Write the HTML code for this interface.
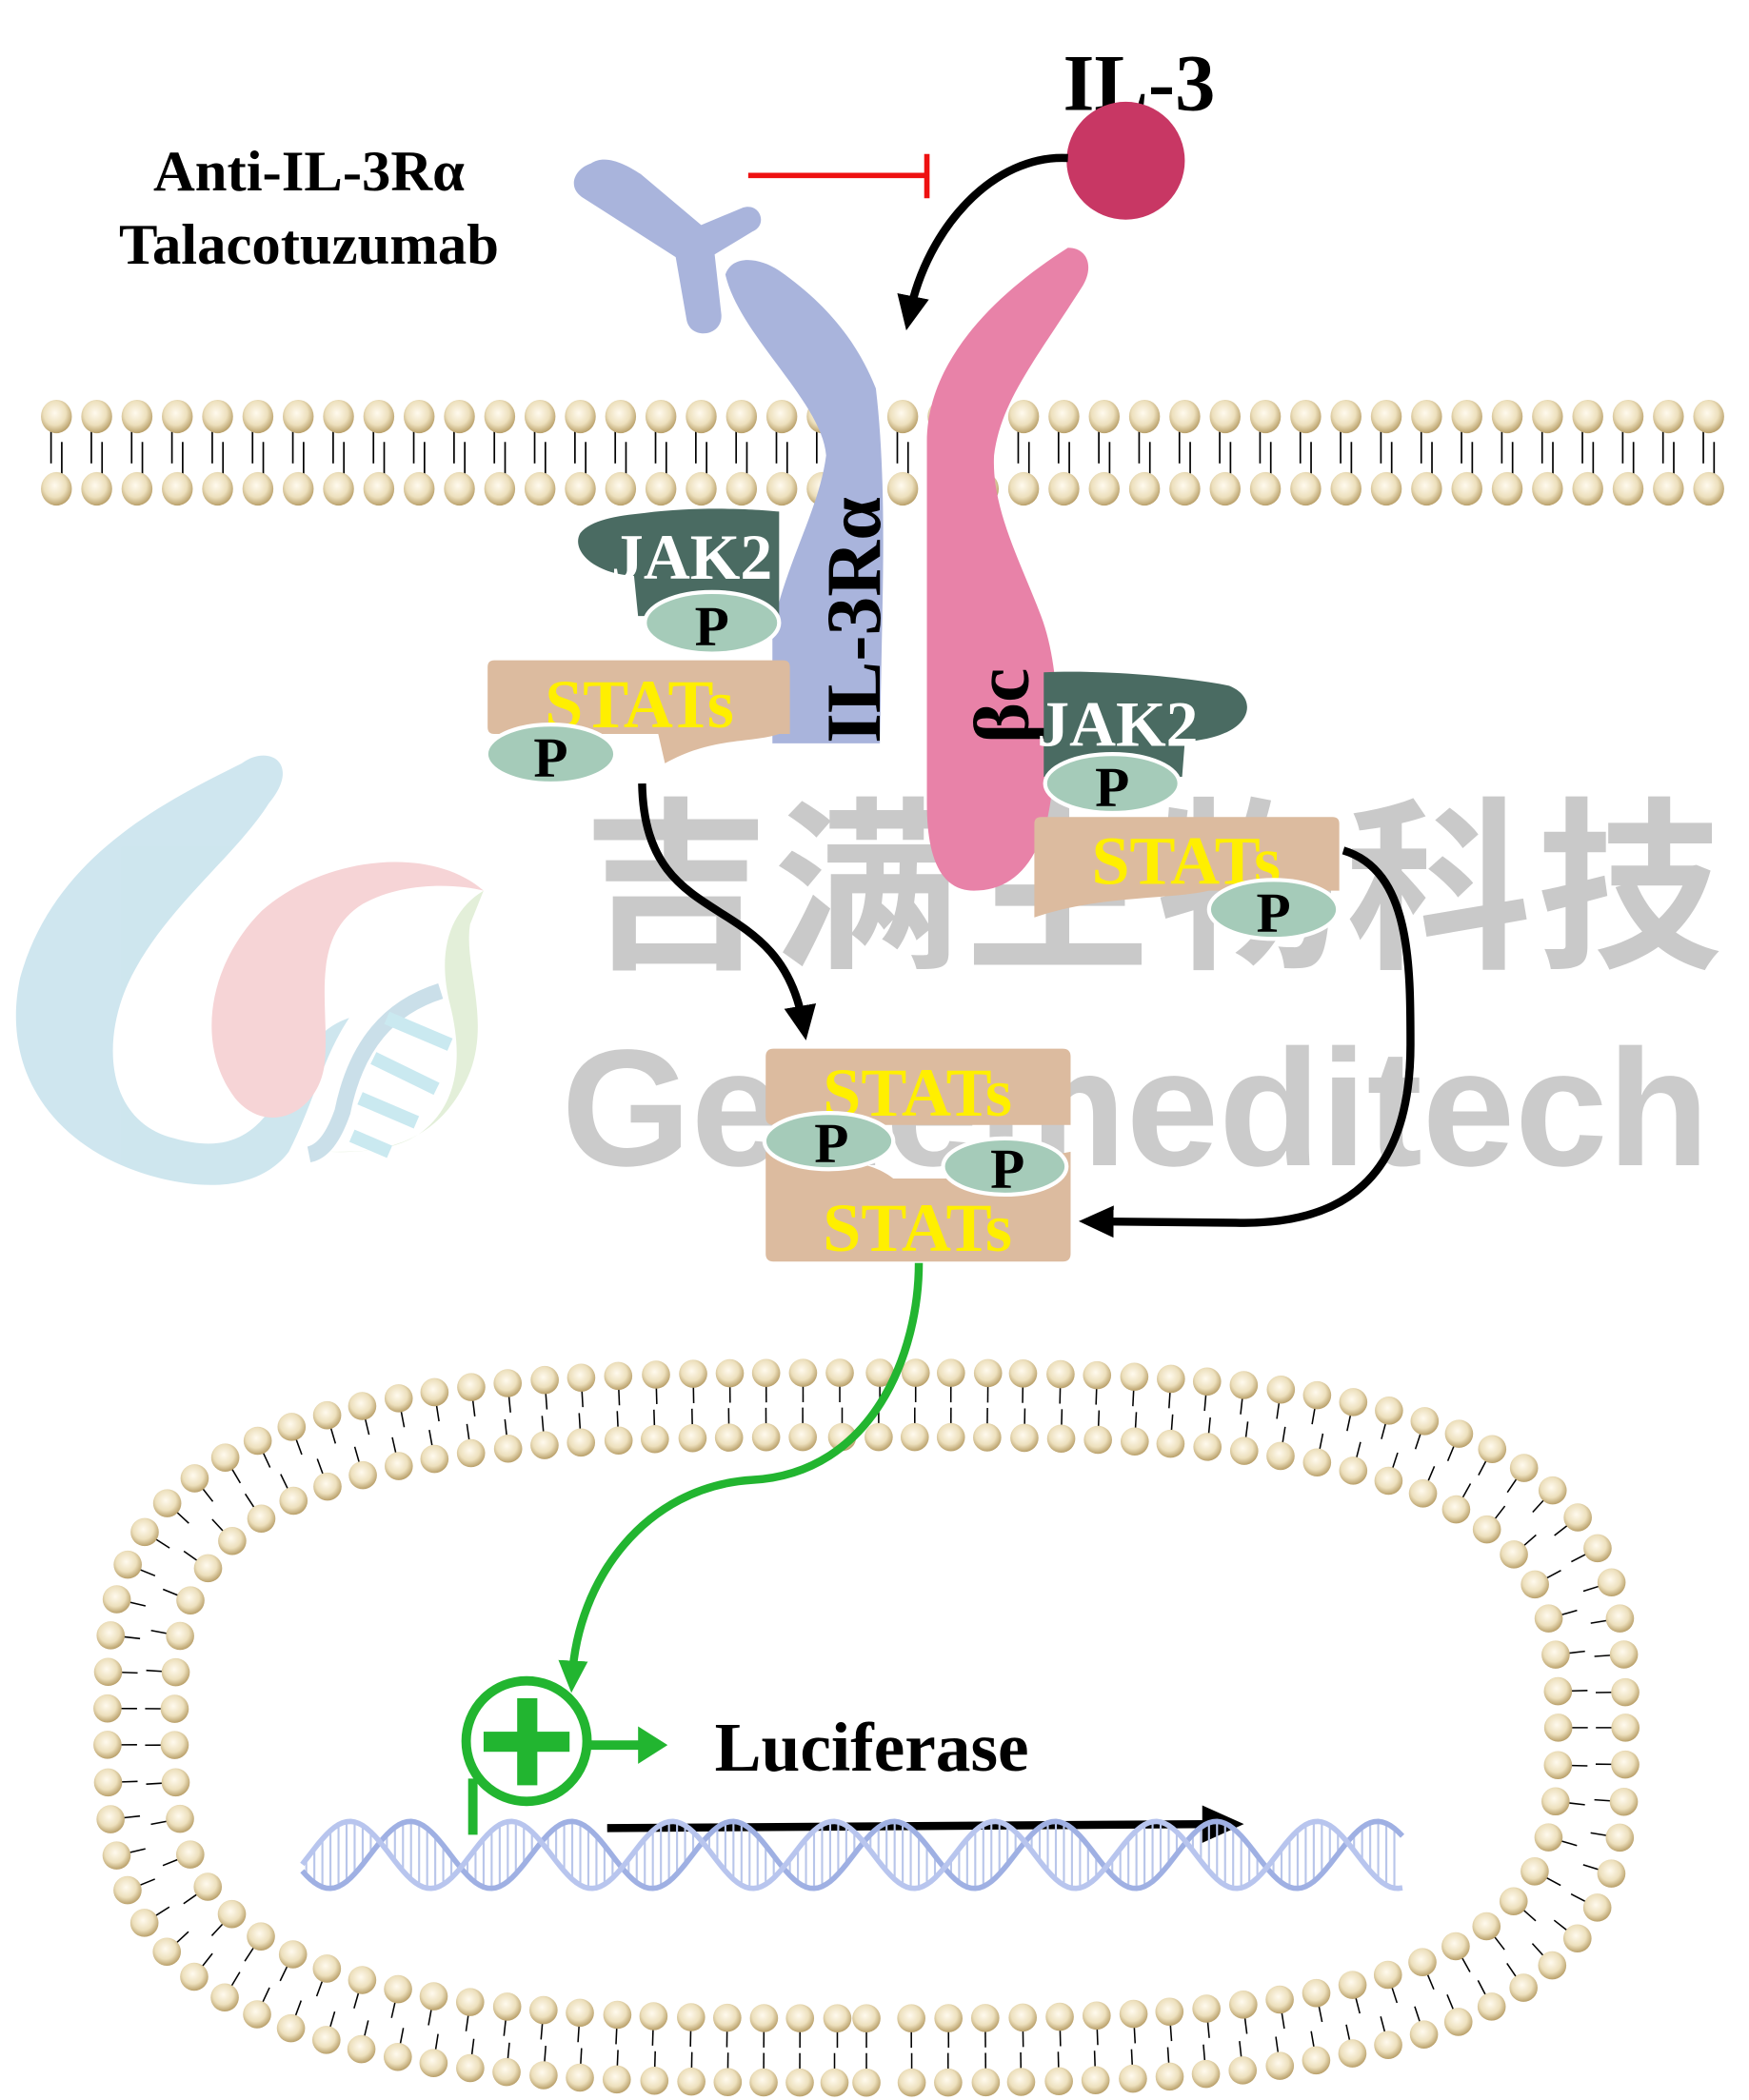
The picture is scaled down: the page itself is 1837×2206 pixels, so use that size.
<!DOCTYPE html>
<html><head><meta charset="utf-8">
<style>html,body{margin:0;padding:0;background:#fff;}svg{display:block;}</style>
</head><body>
<svg id="s" width="1837" height="2206" viewBox="0 0 1302 1568" preserveAspectRatio="none" xmlns="http://www.w3.org/2000/svg">
<defs>
<radialGradient id="hd" cx="0.45" cy="0.4" r="0.6"><stop offset="0" stop-color="#fffaee"/><stop offset="0.6" stop-color="#ede0bd"/><stop offset="1" stop-color="#b9a06a"/></radialGradient>
<marker id="ab" markerWidth="30" markerHeight="30" refX="14" refY="15" orient="auto" markerUnits="userSpaceOnUse"><path d="M0,3 L26,15 L0,27 Z" fill="#000"/></marker>
<marker id="ag" markerWidth="30" markerHeight="30" refX="12" refY="15" orient="auto" markerUnits="userSpaceOnUse"><path d="M0,4 L24,15 L0,26 Z" fill="#22b530"/></marker>
</defs>
<!-- watermark logo -->
<g opacity="0.95">
<path d="M200,600 C225,570 200,555 180,570 C120,600 40,640 15,730 C0,800 40,860 120,880 C170,892 200,880 215,860 C235,820 240,790 260,760 C230,770 220,800 200,830 C185,850 165,860 130,850 C80,838 75,780 95,735 C120,680 175,640 200,600 Z" fill="#cce5ee"/>
<path d="M360,665 C320,630 240,640 195,680 C155,720 145,780 175,820 C200,850 240,830 242,790 C245,750 230,700 270,675 C300,658 340,660 360,665 Z" fill="#f6d2d4"/>
<path d="M360,665 C335,680 325,710 335,750 C345,790 340,820 320,840 C300,860 270,860 245,860 C290,862 330,850 350,800 C365,760 345,720 350,690 Z" fill="#e2efd8"/>
<path d="M328,740 C290,752 265,780 255,830 C248,850 240,860 230,862" stroke="#c8dee8" stroke-width="12" fill="none"/>
<g stroke="#c8e8f0" stroke-width="10"><line x1="288" y1="760" x2="335" y2="780"/><line x1="278" y1="790" x2="325" y2="813"/><line x1="268" y1="820" x2="310" y2="838"/><line x1="262" y1="848" x2="290" y2="860"/></g>
</g>
<text x="860" y="712" font-family="'Noto Sans CJK SC',sans-serif" font-weight="bold" font-size="138" fill="#c9c9c9" text-anchor="middle" letter-spacing="4">吉满生物科技</text>
<text x="418" y="870" font-family="'Liberation Sans',sans-serif" font-weight="bold" font-size="124" fill="#cbcbcb">Genemeditech</text>

<g id="mem"></g>
<g id="nuc"></g>

<!-- antibody -->
<path d="M440,122 C450,115 465,122 477,130 L522,168 L553,155 C566,151 572,168 560,173 L532,190 L537,235 C538,252 513,254 511,238 L503,192 L433,147 C422,139 428,126 440,122 Z" fill="#a9b4dc"/>
<!-- IL-3Ra receptor -->
<path d="M540,205 C545,190 565,192 580,202 C620,230 640,260 652,290 C658,340 658,400 657,450 L655,555 L575,555 L575,470 C585,420 610,380 615,340 C612,300 550,250 540,205 Z" fill="#a9b4dc"/>
<text transform="translate(655,555) rotate(-90)" font-family="'Liberation Serif',serif" font-weight="bold" font-size="58" fill="#000">IL-3Rα</text>
<!-- beta c -->
<path d="M795,185 C810,185 815,200 805,215 C770,270 745,300 740,340 C738,380 760,420 775,460 C790,500 790,560 780,610 C770,650 750,665 725,665 C700,665 690,640 690,600 L690,330 C690,270 740,220 795,185 Z" fill="#e882a8"/>
<text transform="translate(765,555) rotate(-90)" font-family="'Liberation Serif',serif" font-weight="bold" font-size="58" fill="#000">βc</text>

<!-- IL-3 -->
<text x="848" y="82" font-family="'Liberation Serif',serif" font-weight="bold" font-size="60" text-anchor="middle" fill="#000">IL-3</text>
<circle cx="838" cy="120" r="44" fill="#c83764"/>
<path d="M795,118 C740,115 690,170 677,235" stroke="#000" stroke-width="6" fill="none" marker-end="url(#ab)"/>
<line x1="557" y1="131" x2="690" y2="131" stroke="#ee1111" stroke-width="4"/>
<line x1="690" y1="115" x2="690" y2="148" stroke="#ee1111" stroke-width="4"/>
<text x="230" y="142" font-family="'Liberation Serif',serif" font-weight="bold" font-size="43" text-anchor="middle">Anti-IL-3Rα</text>
<text x="230" y="197" font-family="'Liberation Serif',serif" font-weight="bold" font-size="43" text-anchor="middle">Talacotuzumab</text>

<!-- left JAK2 -->
<path d="M480,383 C520,378 560,380 580,382 L580,460 L475,460 L472,430 C440,428 425,410 432,398 C440,388 460,385 480,383 Z" fill="#4a6b62"/>
<text x="515" y="432" font-family="'Liberation Serif',serif" font-weight="bold" font-size="48" fill="#fff" text-anchor="middle">JAK2</text>
<ellipse cx="530" cy="465" rx="50" ry="23" fill="#a5cbb9" stroke="#fff" stroke-width="3"/>
<text x="530" y="482" font-family="'Liberation Serif',serif" font-weight="bold" font-size="42" text-anchor="middle">P</text>
<!-- left STATs -->
<path d="M368,493 L583,493 Q588,493 588,498 L588,548 L580,548 C560,555 530,550 495,570 L490,548 L368,548 Q363,548 363,543 L363,498 Q363,493 368,493 Z" fill="#dcbb9f"/>
<text x="476" y="543" font-family="'Liberation Serif',serif" font-weight="bold" font-size="51" fill="#ffef00" text-anchor="middle">STATs</text>
<ellipse cx="410" cy="563" rx="48" ry="22" fill="#a5cbb9" stroke="#fff" stroke-width="3"/>
<text x="410" y="580" font-family="'Liberation Serif',serif" font-weight="bold" font-size="42" text-anchor="middle">P</text>
<!-- right JAK2 -->
<path d="M777,502 C820,500 880,505 915,512 C935,520 932,540 910,548 C900,552 890,553 882,554 L880,580 L777,580 Z" fill="#4a6b62"/>
<text x="832" y="557" font-family="'Liberation Serif',serif" font-weight="bold" font-size="48" fill="#fff" text-anchor="middle">JAK2</text>
<ellipse cx="828" cy="585" rx="50" ry="22" fill="#a5cbb9" stroke="#fff" stroke-width="3"/>
<text x="828" y="602" font-family="'Liberation Serif',serif" font-weight="bold" font-size="42" text-anchor="middle">P</text>
<!-- right STATs -->
<path d="M775,610 L992,610 Q997,610 997,615 L997,665 L900,665 C870,672 820,668 770,685 L770,615 Q770,610 775,610 Z" fill="#dcbb9f"/>
<text x="883" y="660" font-family="'Liberation Serif',serif" font-weight="bold" font-size="51" fill="#ffef00" text-anchor="middle">STATs</text>
<ellipse cx="948" cy="679" rx="48" ry="22" fill="#a5cbb9" stroke="#fff" stroke-width="3"/>
<text x="948" y="696" font-family="'Liberation Serif',serif" font-weight="bold" font-size="42" text-anchor="middle">P</text>

<!-- arrows to dimer -->
<path d="M478,585 C480,700 580,660 598,765" stroke="#000" stroke-width="6" fill="none" marker-end="url(#ab)"/>
<path d="M1000,635 C1050,650 1050,720 1050,780 C1050,880 1000,915 920,913 L815,912" stroke="#000" stroke-width="6" fill="none" marker-end="url(#ab)"/>

<!-- dimer -->
<path d="M576,783 L791,783 Q797,783 797,789 L797,840 L576,840 Q570,840 570,834 L570,789 Q570,783 576,783 Z" fill="#dcbb9f"/>
<path d="M570,860 C600,870 640,860 665,880 L705,880 C730,860 770,866 797,860 L797,936 Q797,942 791,942 L576,942 Q570,942 570,936 Z" fill="#dcbb9f"/>
<text x="683" y="833" font-family="'Liberation Serif',serif" font-weight="bold" font-size="51" fill="#ffef00" text-anchor="middle">STATs</text>
<text x="683" y="934" font-family="'Liberation Serif',serif" font-weight="bold" font-size="51" fill="#ffef00" text-anchor="middle">STATs</text>
<ellipse cx="617" cy="852" rx="48" ry="21" fill="#a5cbb9" stroke="#fff" stroke-width="3"/>
<text x="619" y="868" font-family="'Liberation Serif',serif" font-weight="bold" font-size="42" text-anchor="middle">P</text>
<ellipse cx="748" cy="871" rx="46" ry="21" fill="#a5cbb9" stroke="#fff" stroke-width="3"/>
<text x="750" y="887" font-family="'Liberation Serif',serif" font-weight="bold" font-size="42" text-anchor="middle">P</text>

<!-- green path -->
<path d="M684,943 C684,1010 650,1100 560,1105 C480,1110 430,1180 426,1252" stroke="#22b530" stroke-width="6" fill="none" marker-end="url(#ag)"/>
<circle cx="392" cy="1300" r="45" fill="#fff" stroke="#22b530" stroke-width="7"/>
<rect x="360" y="1293" width="64" height="15" fill="#22b530"/>
<rect x="385" y="1268" width="15" height="65" fill="#22b530"/>
<line x1="352" y1="1328" x2="352" y2="1370" stroke="#22b530" stroke-width="7"/>
<line x1="437" y1="1303" x2="478" y2="1303" stroke="#22b530" stroke-width="7"/>
<path d="M475,1289 L497,1303 L475,1317 Z" fill="#22b530"/>
<text x="532" y="1322" font-family="'Liberation Serif',serif" font-weight="bold" font-size="52">Luciferase</text>
<line x1="452" y1="1365" x2="900" y2="1362" stroke="#000" stroke-width="6"/>
<path d="M895,1348 L926,1362 L895,1376 Z" fill="#000"/>
<g id="dna"></g>
</svg>
<script>
var NS="http://www.w3.org/2000/svg";
function el(t,a,p){var e=document.createElementNS(NS,t);for(var k in a)e.setAttribute(k,a[k]);p.appendChild(e);return e;}
var mem=document.getElementById('mem');
for(var x=42;x<=1275;x+=30){
 el('line',{x1:x-4,y1:322,x2:x-4,y2:346,stroke:'#000','stroke-width':1.2},mem);
 el('line',{x1:x+4,y1:330,x2:x+4,y2:354,stroke:'#000','stroke-width':1.2},mem);
 el('ellipse',{cx:x,cy:311,rx:11.5,ry:12.5,fill:'url(#hd)'},mem);
 el('ellipse',{cx:x,cy:365,rx:11.5,ry:12.5,fill:'url(#hd)'},mem);
}
var nuc=document.getElementById('nuc');
function se(a,b,n,t){var c=Math.cos(t),s=Math.sin(t);return [645+a*Math.sign(c)*Math.pow(Math.abs(c),2/n),1290+b*Math.sign(s)*Math.pow(Math.abs(s),2/n)];}
function sample(a,b,n,spacing){
 var N=4000,pts=[],L=[0];
 for(var i=0;i<=N;i++){pts.push(se(a,b,n,i/N*2*Math.PI));if(i>0){var dx=pts[i][0]-pts[i-1][0],dy=pts[i][1]-pts[i-1][1];L.push(L[i-1]+Math.sqrt(dx*dx+dy*dy));}}
 var tot=L[N],cnt=Math.round(tot/spacing),out=[],j=0;
 for(var k=0;k<cnt;k++){var target=k*tot/cnt;while(L[j]<target)j++;
  var p=pts[j],q=pts[Math.min(j+1,N)],r=pts[Math.max(j-1,0)];var tx=q[0]-r[0],ty=q[1]-r[1],tl=Math.sqrt(tx*tx+ty*ty)||1;
  out.push([p[0],p[1],ty/tl,-tx/tl]);}
 return out;
}
var outer=sample(565,265,3.2,27.5), inner=sample(515,217,3.2,27.5);
function tails(arr,sign){arr.forEach(function(p){
 el('line',{x1:p[0]+sign*p[2]*10,y1:p[1]+sign*p[3]*10,x2:p[0]+sign*p[2]*22,y2:p[1]+sign*p[3]*22,stroke:'#000','stroke-width':1.1},nuc);});}
tails(outer,-1);tails(inner,1);
outer.concat(inner).forEach(function(p){el('circle',{cx:p[0],cy:p[1],r:10.5,fill:'url(#hd)'},nuc);});
var dna=document.getElementById('dna');
var d1='',d2='';
for(var x=225;x<=1045;x+=3){var y1=1385+25*Math.sin((x-225)/120*2*Math.PI+0.5),y2=1385+25*Math.sin((x-225)/120*2*Math.PI+0.5+Math.PI*0.75);d1+=(x==225?'M':'L')+x+','+y1;d2+=(x==225?'M':'L')+x+','+y2;}
for(var x=228;x<=1042;x+=6){var y1=1385+25*Math.sin((x-225)/120*2*Math.PI+0.5),y2=1385+25*Math.sin((x-225)/120*2*Math.PI+0.5+Math.PI*0.75);el('line',{x1:x,y1:y1,x2:x,y2:y2,stroke:'#b9c6ea','stroke-width':1.5},dna);}
el('path',{d:d1,stroke:'#9fb0e3','stroke-width':4,fill:'none'},dna);
el('path',{d:d2,stroke:'#b8c5ee','stroke-width':4,fill:'none'},dna);
</script>
</body></html>
